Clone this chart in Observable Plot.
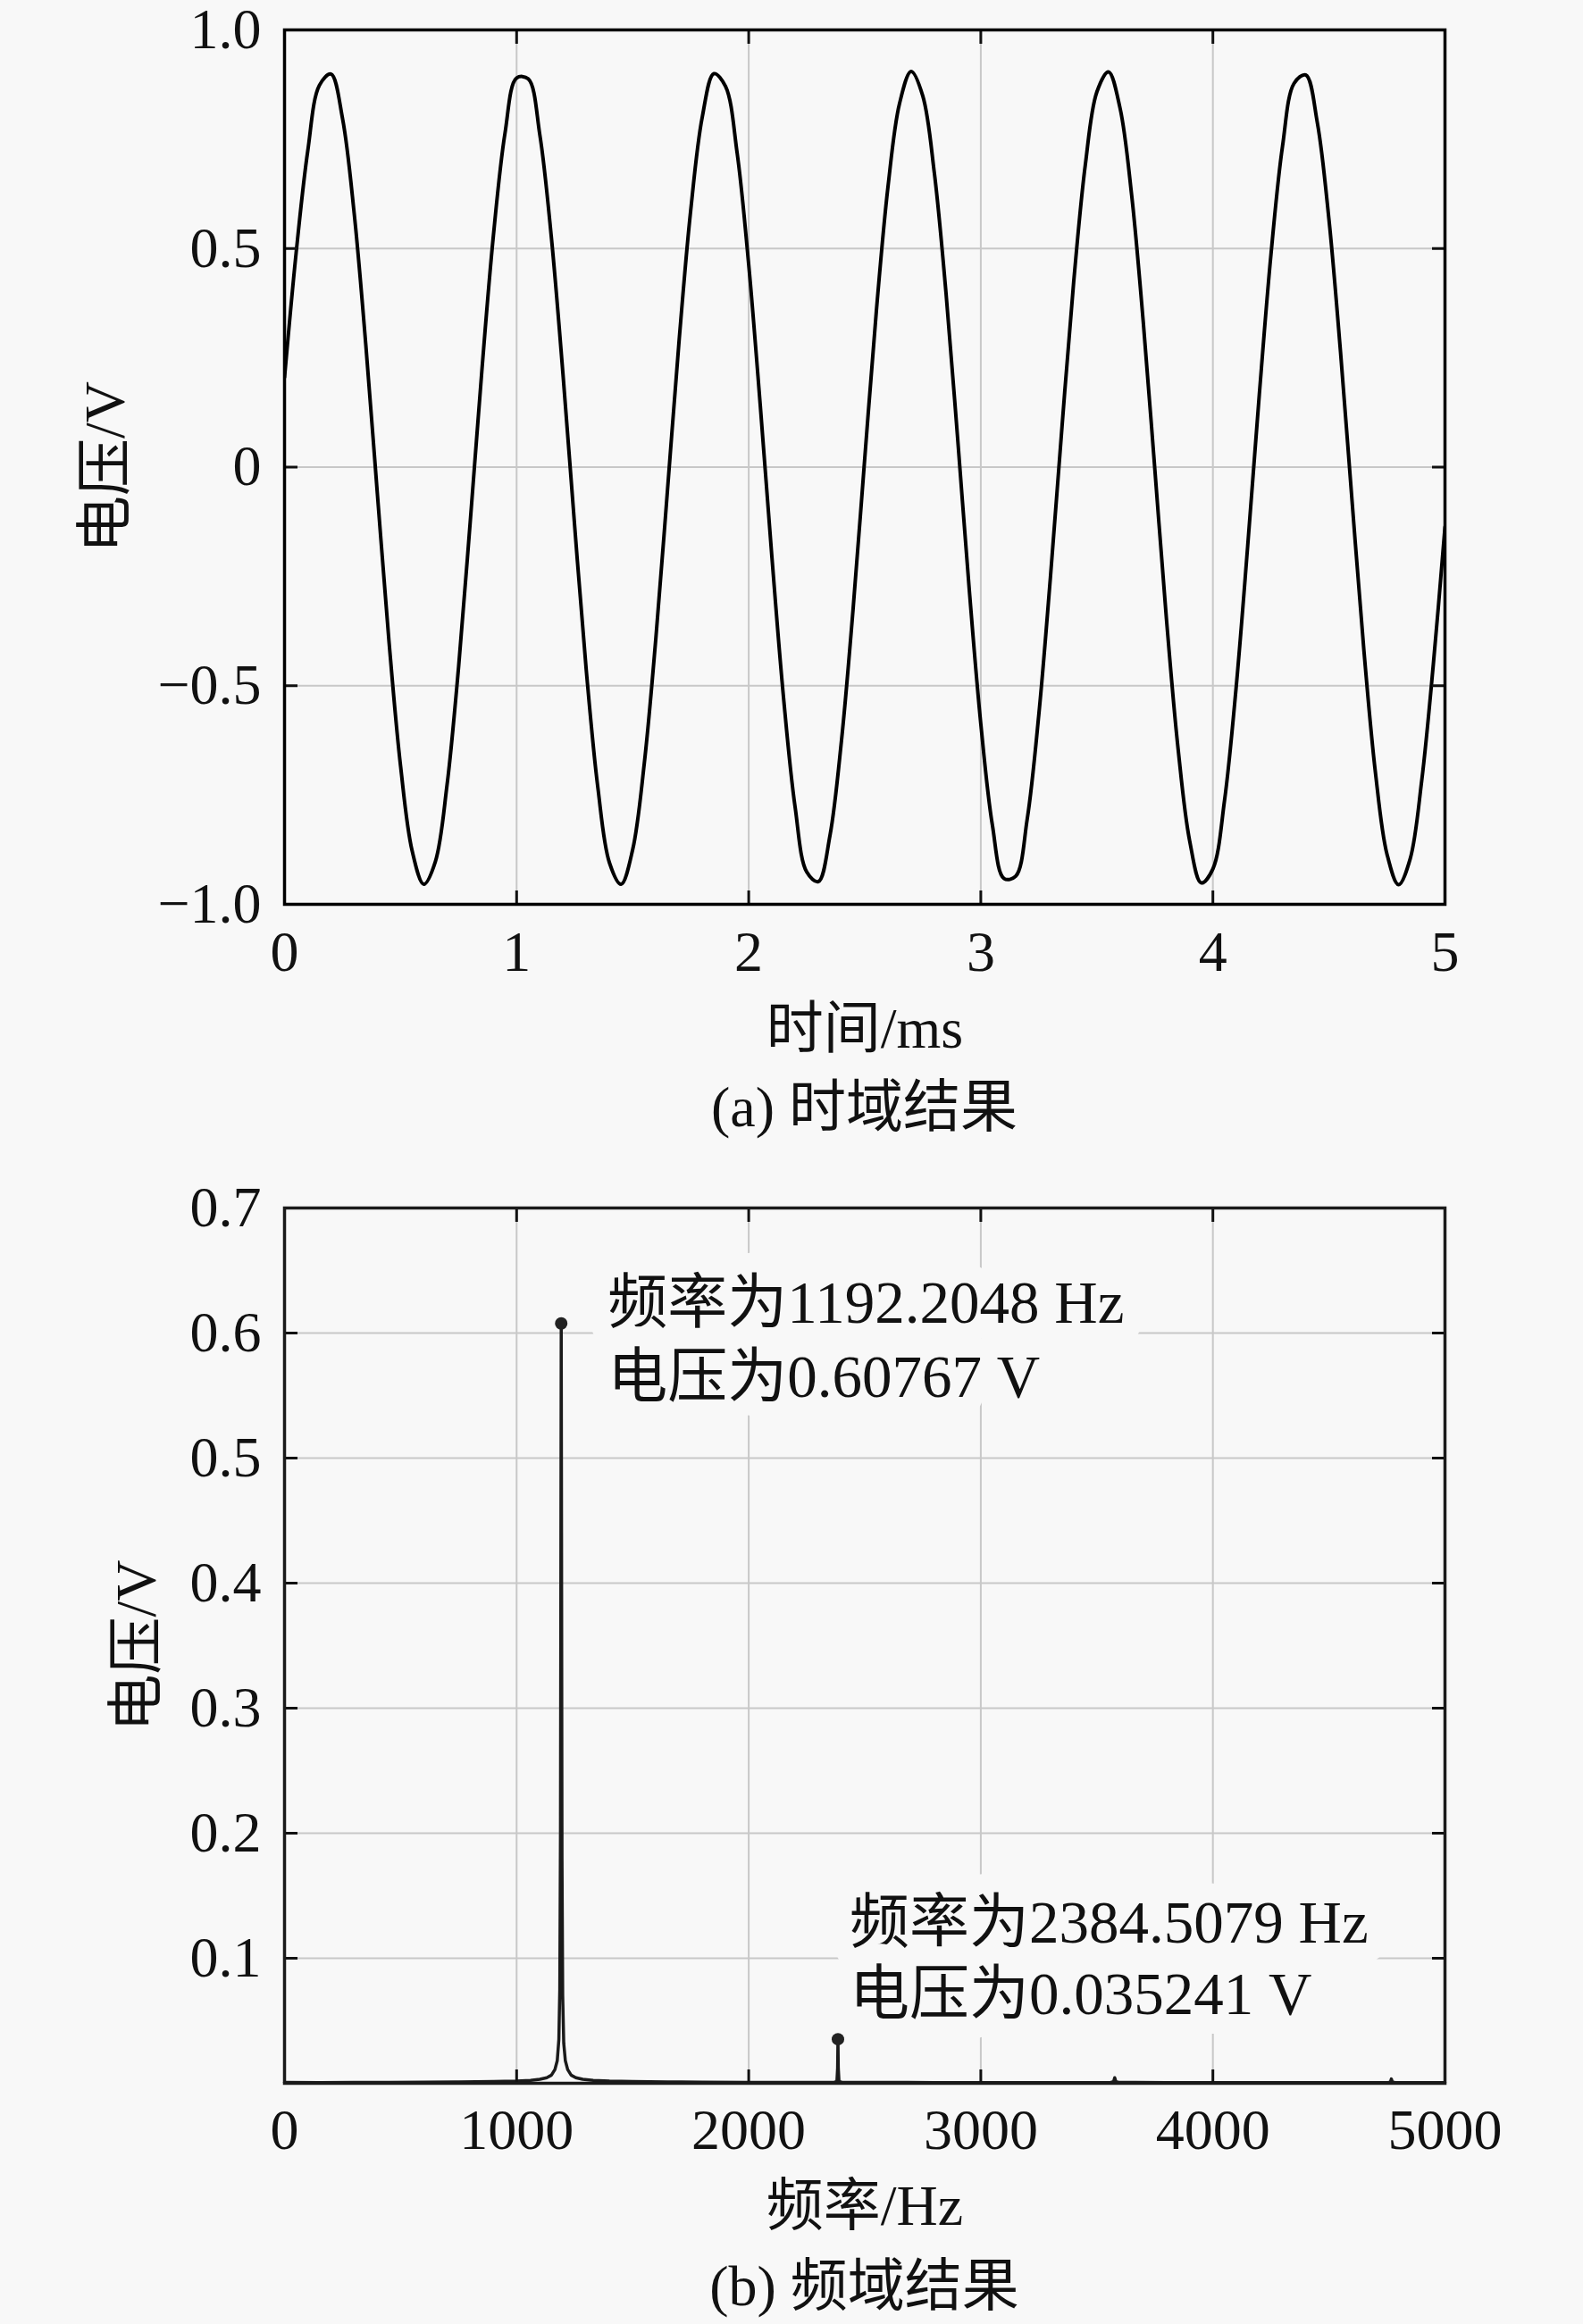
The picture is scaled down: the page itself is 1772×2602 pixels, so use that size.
<!DOCTYPE html>
<html><head><meta charset="utf-8">
<script src="https://cdn.jsdelivr.net/npm/d3@7"></script>
<script src="https://cdn.jsdelivr.net/npm/@observablehq/plot@0.6"></script>
<style>
body{margin:0;background:#f8f8f8;width:1772px;}
svg{display:block;overflow:visible}
.cap{font-family:"Liberation Serif","Noto Sans CJK SC",serif;font-size:64px;color:#111;margin-left:318px;width:1299px;text-align:center;white-space:nowrap;}
</style></head><body>
<div id="a"></div>
<div class="cap" style="height:80px;line-height:80px">(a) 时域结果</div>
<div id="b"></div>
<div class="cap" style="height:100px;line-height:100px">(b) 频域结果</div>
<script>
const sampleStepMs = 0.05;
const voltageV = [
 0.205, 0.49, 0.723, 0.873, 0.899, 0.797, 0.581, 0.281, -0.061, -0.398,
 -0.684, -0.878, -0.954, -0.902, -0.728, -0.457, -0.126, 0.219, 0.530, 0.764,
 0.890, 0.888, 0.760, 0.524, 0.211, -0.134, -0.464, -0.733, -0.905, -0.954,
 -0.875, -0.678, -0.391, -0.053, 0.289, 0.587, 0.801, 0.900, 0.871, 0.719,
 0.463, 0.140, -0.206, -0.527, -0.778, -0.926, -0.948, -0.843, -0.624, -0.323,
 0.020, 0.357, 0.641, 0.832, 0.905, 0.849, 0.672, 0.399, 0.067, -0.278,
 -0.587, -0.819, -0.941, -0.936, -0.805, -0.566, -0.252, 0.093, 0.422, 0.690,
 0.858, 0.904, 0.821, 0.622, 0.332, -0.006, -0.348, -0.644, -0.855, -0.951,
 -0.919, -0.763, -0.505, -0.180, 0.166, 0.485, 0.734, 0.878, 0.897, 0.788,
 0.567, 0.263, -0.080, -0.415, -0.697, -0.885, -0.955, -0.896, -0.716, -0.450,
 -0.137
];
const timeTicks = [0, 1, 2, 3, 4, 5];
const timeTickLabels = ["0", "1", "2", "3", "4", "5"];
const voltTicks = [-1, -0.5, 0, 0.5, 1];
const voltTickLabels = ["\u22121.0", "\u22120.5", "0", "0.5", "1.0"];

// ---- Frequency-domain data ----
const freqHz = [0, 150, 300, 450, 600, 750, 900, 1000, 1060, 1100, 1130, 1150, 1165, 1175, 1182, 1186, 1189, 1191,
  1192.2048, 1193.5, 1195.5, 1198.5, 1203, 1210, 1220, 1235, 1255, 1285, 1330, 1400, 1500, 1650, 1800, 2000, 2200,
  2370, 2380, 2383, 2384.5079, 2386, 2389, 2400, 2600, 2800, 3000, 3200, 3400, 3560, 3572, 3577, 3582, 3595,
  3800, 4000, 4200, 4400, 4600, 4755, 4765, 4769, 4773, 4785, 4900, 5000];
const ampV = [0.0008, 0.0006, 0.0007, 0.0008, 0.0009, 0.0011, 0.0014, 0.0018, 0.0024, 0.0032, 0.0045, 0.0065, 0.011, 0.018, 0.035, 0.075, 0.20, 0.46,
  0.60767, 0.44, 0.18, 0.07, 0.032, 0.018, 0.011, 0.0065, 0.0045, 0.0032, 0.0024, 0.0018, 0.0014, 0.0011, 0.0009, 0.0008, 0.0008,
  0.0009, 0.0015, 0.012, 0.035241, 0.012, 0.0015, 0.0009, 0.0007, 0.0006, 0.0006, 0.0006, 0.0006, 0.0007, 0.0012, 0.0045, 0.0012, 0.0007,
  0.0006, 0.0006, 0.0005, 0.0005, 0.0005, 0.0006, 0.0011, 0.0035, 0.0011, 0.0006, 0.0005, 0.0005];
const peakFreq = [1192.2048, 2384.5079];
const peakAmp = [0.60767, 0.035241];
const peakText = ["频率为1192.2048 Hz\n电压为0.60767 V", "频率为2384.5079 Hz\n电压为0.035241 V"];
const freqTicks = [0, 1000, 2000, 3000, 4000, 5000];
const freqTickLabels = ["0", "1000", "2000", "3000", "4000", "5000"];
const ampTicks = [0.1, 0.2, 0.3, 0.4, 0.5, 0.6, 0.7];
const ampTickLabels = ["0.1", "0.2", "0.3", "0.4", "0.5", "0.6", "0.7"];

// ---- build ----
const bg = "#f8f8f8";
const fontFam = '"Liberation Serif","Noto Sans CJK SC",serif';
const gridColor = "#c8c8c8";
const lab = (vals, labels) => { const m = new Map(vals.map((v, i) => [v, labels[i]])); return d => m.get(d); };

const timeData = voltageV.map((v, i) => ({t: +(i * sampleStepMs).toFixed(3), v}));

const p1 = Plot.plot({
  width: 1772, height: 1200,
  marginLeft: 318, marginRight: 155, marginTop: 33, marginBottom: 188,
  style: {fontFamily: fontFam, fontSize: "64px", background: bg, color: "#111", overflow: "visible"},
  x: {domain: [0, 5]},
  y: {domain: [-1, 1]},
  marks: [
    Plot.gridX({ticks: timeTicks, stroke: gridColor, strokeOpacity: 1, strokeWidth: 2}),
    Plot.gridY({ticks: voltTicks, stroke: gridColor, strokeOpacity: 1, strokeWidth: 2}),
    Plot.line(timeData, {x: "t", y: "v", stroke: "#000", strokeWidth: 4, curve: "catmull-rom", clip: true}),
    Plot.axisX({anchor: "bottom", ticks: timeTicks, tickSize: 0, tickPadding: 29, tickFormat: lab(timeTicks, timeTickLabels),
      fontSize: 64, label: "时间/ms", labelAnchor: "center", labelOffset: 160, labelArrow: "none"}),
    Plot.axisY({anchor: "left", ticks: voltTicks, tickSize: 0, tickPadding: 26, tickFormat: lab(voltTicks, voltTickLabels),
      fontSize: 64, label: "电压/V", labelAnchor: "center", labelOffset: 225, labelArrow: "none"}),
    Plot.axisX({anchor: "bottom", ticks: timeTicks, tickSize: -15, text: null, label: null, strokeWidth: 3}),
    Plot.axisX({anchor: "top", ticks: timeTicks, tickSize: -15, text: null, label: null, strokeWidth: 3}),
    Plot.axisY({anchor: "left", ticks: voltTicks, tickSize: -15, text: null, label: null, strokeWidth: 3}),
    Plot.axisY({anchor: "right", ticks: voltTicks, tickSize: -15, text: null, label: null, strokeWidth: 3}),
    Plot.frame({stroke: "#000", strokeWidth: 3.5})
  ]
});
document.getElementById("a").append(p1);

const specData = freqHz.map((f, i) => ({f, a: ampV[i]}));
const peaks = peakFreq.map((f, i) => ({f, a: peakAmp[i], label: peakText[i]}));

const p2 = Plot.plot({
  width: 1772, height: 1230,
  marginLeft: 318, marginRight: 155, marginTop: 72, marginBottom: 178,
  style: {fontFamily: fontFam, fontSize: "64px", background: bg, color: "#111", overflow: "visible"},
  x: {domain: [0, 5000]},
  y: {domain: [0, 0.7]},
  marks: [
    Plot.gridX({ticks: freqTicks, stroke: gridColor, strokeOpacity: 1, strokeWidth: 2}),
    Plot.gridY({ticks: ampTicks, stroke: gridColor, strokeOpacity: 1, strokeWidth: 2}),
    Plot.line(specData, {x: "f", y: "a", stroke: "#1a1a1a", strokeWidth: 3.5}),
    Plot.text(peaks.slice(0, 1), {x: "f", y: "a", text: "label", textAnchor: "start", dx: 52, dy: 14, lineHeight: 1.25,
      fontSize: 67, fill: "#111", stroke: bg, strokeWidth: 44, strokeLinejoin: "round", paintOrder: "stroke"}),
    Plot.text(peaks.slice(1, 2), {x: "f", y: "a", text: "label", textAnchor: "start", dx: 13, dy: -94, lineHeight: 1.2,
      fontSize: 67, fill: "#111", stroke: bg, strokeWidth: 44, strokeLinejoin: "round", paintOrder: "stroke"}),
    Plot.dot(peaks, {x: "f", y: "a", r: 7, fill: "#222"}),
    Plot.axisX({anchor: "bottom", ticks: freqTicks, tickSize: 0, tickPadding: 28, tickFormat: lab(freqTicks, freqTickLabels),
      fontSize: 64, label: "频率/Hz", labelAnchor: "center", labelOffset: 158, labelArrow: "none"}),
    Plot.axisY({anchor: "left", ticks: ampTicks, tickSize: 0, tickPadding: 26, tickFormat: lab(ampTicks, ampTickLabels),
      fontSize: 64, label: "电压/V", labelAnchor: "center", labelOffset: 190, labelArrow: "none"}),
    Plot.axisX({anchor: "bottom", ticks: freqTicks, tickSize: -15, text: null, label: null, strokeWidth: 3}),
    Plot.axisX({anchor: "top", ticks: freqTicks, tickSize: -15, text: null, label: null, strokeWidth: 3}),
    Plot.axisY({anchor: "left", ticks: ampTicks, tickSize: -15, text: null, label: null, strokeWidth: 3}),
    Plot.axisY({anchor: "right", ticks: ampTicks, tickSize: -15, text: null, label: null, strokeWidth: 3}),
    Plot.frame({stroke: "#1a1a1a", strokeWidth: 3.5})
  ]
});
document.getElementById("b").append(p2);
</script></body></html>
